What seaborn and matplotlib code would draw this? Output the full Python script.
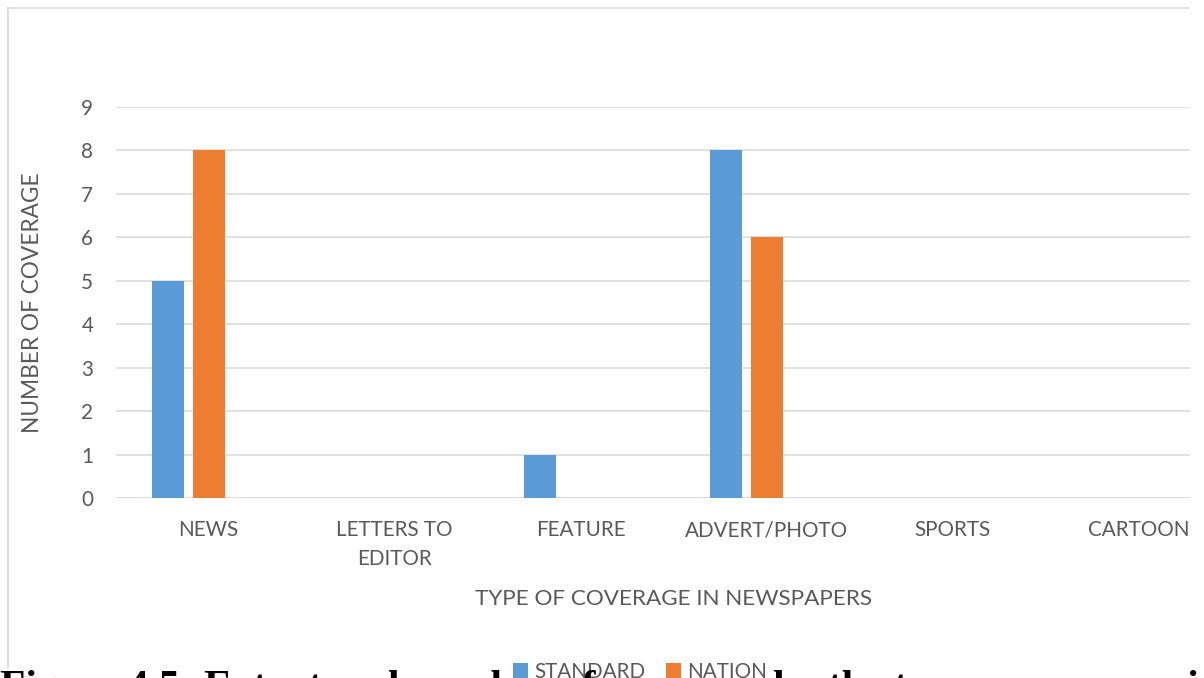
import matplotlib
matplotlib.use("Agg")
import matplotlib.pyplot as plt
from matplotlib.lines import Line2D
from matplotlib.patches import Patch, Rectangle
import pandas as pd
import seaborn as sns

# Coverage counts per type of newspaper coverage
categories = ["NEWS", "LETTERS TO\nEDITOR", "FEATURE", "ADVERT/PHOTO", "SPORTS", "CARTOON"]
standard = [5, 0, 1, 8, 0, 0]
nation = [8, 0, 0, 6, 0, 0]
series = ["STANDARD", "NATION"]
y_ticks = list(range(0, 10))

caption = "Figure 4.5: Extent and number of coverage by the two newspapers in Ma"

BLUE = "#5B9BD5"
ORANGE = "#ED7D31"
GRID = "#D9D9D9"
TEXT = "#595959"
FONT = "Lato"

df = pd.DataFrame({
    "category": categories * 2,
    "series": [series[0]] * len(categories) + [series[1]] * len(categories),
    "count": standard + nation,
})

sns.set_theme(style="white")
plt.rcParams["font.family"] = [FONT, "DejaVu Sans"]

W, H = 1204, 678
fig = plt.figure(figsize=(W / 100, H / 100), dpi=100)
fig.patch.set_facecolor("white")

# plot area in pixels: x 115.5 -> 1232, y 107 -> 498
left, right, top, bottom = 115.5, 1232.0, 107.0, 498.0
ax = fig.add_axes([left / W, 1 - bottom / H, (right - left) / W, (bottom - top) / H])

# a third, empty hue slot keeps each pair of bars left of the category centre
hue_slots = series + ["_empty"]
sns.barplot(
    data=df, x="category", y="count", hue="series",
    order=categories, hue_order=hue_slots,
    palette=[BLUE, ORANGE, "white"], saturation=1,
    width=0.661, gap=0.22, errorbar=None, linewidth=0,
    legend=False, ax=ax, zorder=3,
)

ax.set_xlim(-0.5, len(categories) - 0.5)
ax.set_ylim(0, 9)
ax.set_yticks(y_ticks)
ax.yaxis.grid(True, color=GRID, linewidth=1.1, zorder=0)
ax.xaxis.grid(False)
for s in ax.spines.values():
    s.set_visible(False)
ax.axhline(0, color=GRID, linewidth=1.1, zorder=2)

ax.tick_params(axis="both", length=0, labelsize=14.9, labelcolor=TEXT)
ax.tick_params(axis="x", pad=16)
ax.tick_params(axis="y", pad=16)
for lab in ax.get_xticklabels():
    lab.set_linespacing(1.55)

ax.set_xlabel("TYPE OF COVERAGE IN NEWSPAPERS", fontsize=16.2, color=TEXT)
ax.set_ylabel("NUMBER OF COVERAGE", fontsize=16.3, color=TEXT)
ax.xaxis.set_label_coords(0.5, (bottom - 599) / (bottom - top))
ax.xaxis.label.set_va("center")
ax.yaxis.set_label_coords((33 - left) / (right - left), 0.5)
ax.yaxis.label.set_va("center")
ax.yaxis.label.set_ha("center")

# crop the plot area at the right edge of the chart frame
fig.patches.append(Rectangle((1190 / W, 1 - 640 / H), 20 / W, 640 / H,
                             transform=fig.transFigure, facecolor="white",
                             edgecolor="none", zorder=10))

# chart frame (left and top edges)
fig.lines.append(Line2D([8 / W, 8 / W], [1 - 8 / H, 1 - 668 / H],
                        transform=fig.transFigure, color=GRID, linewidth=1.2, zorder=11))
fig.lines.append(Line2D([8 / W, 1189 / W], [1 - 8 / H, 1 - 8 / H],
                        transform=fig.transFigure, color=GRID, linewidth=1.2, zorder=11))

# legend
handles = [Patch(facecolor=BLUE, edgecolor="none"), Patch(facecolor=ORANGE, edgecolor="none")]
leg = fig.legend(handles, series, loc="center", bbox_to_anchor=(640 / W, 1 - 672 / H),
                 ncol=2, frameon=False, fontsize=14.9, handlelength=0.72, handleheight=0.72,
                 handletextpad=0.3, columnspacing=1.0, borderpad=0, borderaxespad=0)
for t in leg.get_texts():
    t.set_color(TEXT)

# caption below the chart
fig.text(0, 1 - 699 / H, caption, fontsize=30, fontweight="bold",
         family="Liberation Serif", color="black", ha="left", va="baseline", zorder=12)

fig.savefig("out.png", dpi=100)
